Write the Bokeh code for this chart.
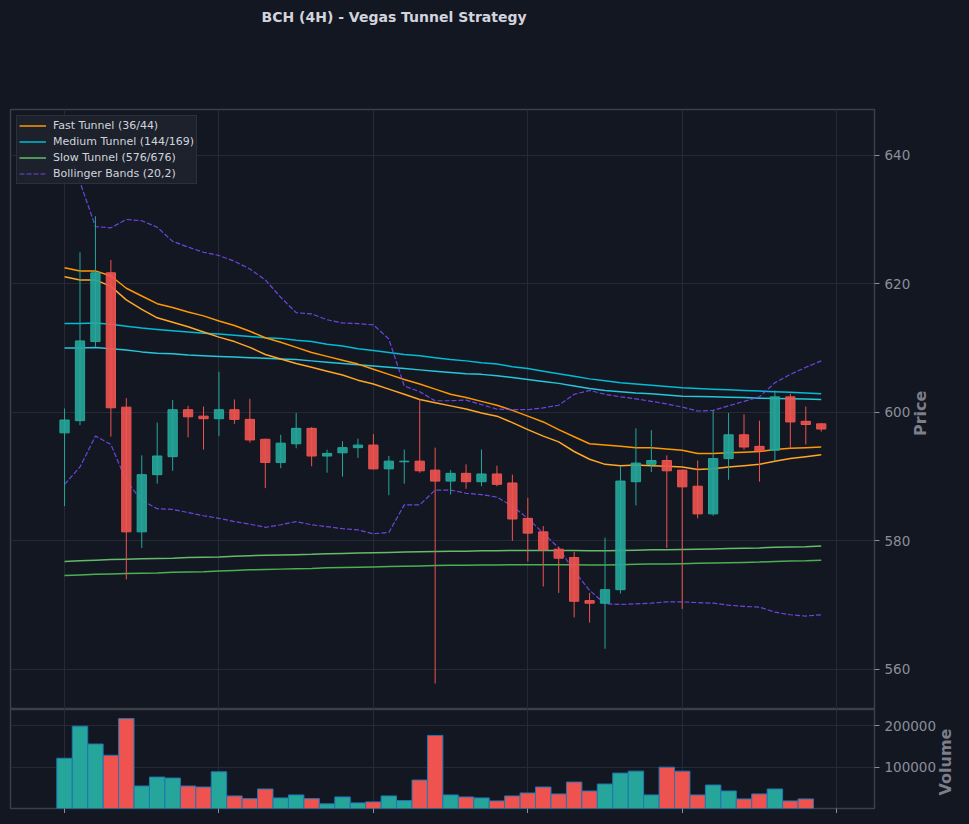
import math
from bokeh.plotting import figure
from bokeh.models import (ColumnDataSource, FixedTicker, Range1d, Legend, LegendItem,
                          Grid, NumeralTickFormatter, CustomJSTickFormatter, LinearAxis)
from bokeh.layouts import column
from bokeh.embed import file_html
from bokeh.resources import INLINE

# ---------------- data ----------------
idx = list(range(50))
opens = [596.8, 598.7, 611.0, 621.7, 600.8, 581.4, 590.3, 593.1, 600.4, 599.4,
         599.0, 600.4, 598.9, 595.8, 592.2, 595.1, 597.5, 593.2, 593.7, 594.5,
         594.9, 591.2, 592.3, 592.4, 591.0, 589.3, 590.5, 589.2, 590.4, 589.0,
         583.5, 581.4, 578.7, 577.4, 570.7, 570.3, 572.4, 589.2, 591.9, 592.5,
         591.0, 588.5, 584.2, 592.8, 596.5, 594.7, 594.1, 602.4, 598.6, 598.2]
highs = [600.6, 624.9, 630.5, 623.7, 602.2, 593.3, 598.4, 601.9, 601.0, 600.9,
         606.3, 602.0, 602.1, 595.9, 596.5, 599.9, 597.7, 594.2, 595.5, 595.9,
         596.6, 593.2, 594.2, 602.1, 594.5, 591.0, 591.9, 594.2, 591.7, 590.3,
         586.7, 582.3, 579.1, 578.3, 571.9, 580.5, 591.6, 597.5, 597.2, 593.3,
         591.1, 592.5, 600.3, 599.9, 599.7, 598.7, 603.4, 602.9, 600.9, 598.3]
lows = [585.4, 598.0, 610.2, 596.2, 574.0, 578.9, 588.9, 590.9, 596.1, 594.2,
        596.3, 598.2, 595.3, 588.2, 591.3, 594.4, 591.6, 590.6, 590.0, 592.9,
        591.1, 587.1, 588.9, 590.6, 557.8, 587.2, 588.1, 588.5, 588.5, 580.0,
        576.8, 572.9, 571.9, 568.1, 567.3, 563.2, 571.8, 585.5, 590.7, 578.9,
        569.4, 583.5, 583.9, 589.5, 594.2, 589.2, 592.4, 594.4, 595.0, 597.0]
closes = [598.8, 611.1, 621.7, 600.7, 581.4, 590.3, 593.2, 600.4, 599.3, 599.0,
          600.4, 598.9, 595.7, 592.2, 595.2, 597.5, 593.2, 593.6, 594.5, 594.9,
          591.2, 592.4, 592.4, 590.9, 589.3, 590.5, 589.2, 590.4, 588.8, 583.4,
          581.2, 578.6, 577.3, 570.6, 570.3, 572.4, 589.3, 592.1, 592.5, 590.9,
          588.4, 584.2, 592.8, 596.5, 594.6, 594.0, 602.4, 598.5, 598.1, 597.4]
volumes = [121600, 199200, 156000, 128800, 217600, 54400, 76000, 73600, 54400, 52000,
           88800, 30400, 24000, 47200, 25600, 32800, 24000, 11200, 28000, 13600,
           16000, 30400, 19200, 68800, 176800, 32800, 28000, 25600, 18400, 30400,
           37600, 52000, 35200, 64000, 42400, 59200, 85600, 90400, 32800, 100000,
           90400, 32800, 56800, 42400, 23200, 35200, 47200, 18400, 23200]

fast_a = [622.5, 622.0, 622.0, 621.2, 619.3, 618.1, 616.9, 616.3, 615.6, 615.0,
          614.2, 613.5, 612.6, 611.6, 610.9, 610.1, 609.3, 608.7, 608.1, 607.5,
          606.7, 605.9, 605.1, 604.4, 603.6, 602.8, 602.3, 601.7, 601.1, 600.3,
          599.4, 598.5, 597.3, 596.2, 595.1, 594.9, 594.7, 594.5, 594.5, 594.3,
          594.1, 593.6, 593.6, 593.7, 593.8, 593.9, 594.2, 594.4, 594.5, 594.6]
fast_b = [621.1, 620.6, 620.6, 619.6, 617.5, 616.0, 614.7, 614.0, 613.3, 612.5,
          611.7, 611.0, 610.1, 609.0, 608.3, 607.6, 607.0, 606.4, 605.8, 605.0,
          604.4, 603.6, 602.8, 602.0, 601.5, 601.0, 600.5, 599.9, 599.4, 598.4,
          597.3, 596.3, 595.4, 593.9, 592.7, 591.9, 591.7, 591.8, 591.7, 591.6,
          591.5, 591.1, 591.2, 591.5, 591.7, 591.9, 592.4, 592.8, 593.1, 593.4]
med_a = [613.8, 613.8, 613.9, 613.7, 613.4, 613.1, 612.9, 612.7, 612.5, 612.3,
         612.2, 612.0, 611.8, 611.6, 611.5, 611.2, 611.0, 610.6, 610.3, 609.9,
         609.6, 609.3, 609.0, 608.8, 608.5, 608.2, 608.0, 607.7, 607.5, 607.1,
         606.8, 606.4, 606.0, 605.6, 605.2, 604.9, 604.6, 604.4, 604.2, 604.0,
         603.8, 603.7, 603.6, 603.5, 603.4, 603.3, 603.2, 603.1, 603.0, 602.9]
med_b = [610.0, 610.0, 610.1, 609.9, 609.7, 609.4, 609.2, 609.1, 608.9, 608.8,
         608.7, 608.6, 608.5, 608.4, 608.3, 608.2, 608.0, 607.8, 607.6, 607.4,
         607.2, 607.0, 606.8, 606.6, 606.4, 606.2, 606.0, 605.9, 605.7, 605.4,
         605.1, 604.8, 604.5, 604.1, 603.7, 603.4, 603.2, 603.0, 602.9, 602.7,
         602.5, 602.45, 602.4, 602.35, 602.3, 602.2, 602.15, 602.1, 602.05, 602.0]
slow_a = [576.8, 576.9, 577.0, 577.1, 577.15, 577.2, 577.25, 577.3, 577.4, 577.45,
          577.5, 577.6, 577.7, 577.75, 577.8, 577.85, 577.9, 578.0, 578.05, 578.1,
          578.15, 578.2, 578.25, 578.3, 578.35, 578.4, 578.4, 578.45, 578.45, 578.5,
          578.5, 578.5, 578.5, 578.5, 578.45, 578.45, 578.5, 578.55, 578.6, 578.6,
          578.65, 578.7, 578.75, 578.8, 578.85, 578.9, 579.0, 579.05, 579.1, 579.2]
slow_b = [574.6, 574.7, 574.8, 574.85, 574.9, 574.95, 575.0, 575.1, 575.15, 575.2,
          575.3, 575.4, 575.5, 575.55, 575.6, 575.65, 575.7, 575.8, 575.85, 575.9,
          575.95, 576.0, 576.05, 576.1, 576.15, 576.2, 576.2, 576.25, 576.25, 576.3,
          576.3, 576.3, 576.3, 576.3, 576.25, 576.25, 576.3, 576.35, 576.4, 576.4,
          576.45, 576.5, 576.55, 576.6, 576.65, 576.7, 576.8, 576.85, 576.9, 577.0]
bb_upper = [642.5, 635.8, 628.9, 628.7, 630.0, 629.8, 628.8, 626.6, 625.7, 624.9,
            624.4, 623.5, 622.3, 620.6, 617.9, 615.5, 615.3, 614.4, 613.9, 613.8,
            613.6, 611.4, 604.1, 603.2, 601.8, 601.8, 601.9, 601.2, 600.5, 600.4,
            600.4, 600.7, 601.1, 602.8, 603.4, 602.8, 602.4, 602.1, 601.7, 601.3,
            600.8, 600.2, 600.3, 601.0, 601.7, 602.4, 604.6, 605.9, 607.0, 608.0]
bb_lower = [588.8, 591.5, 596.3, 595.0, 589.3, 586.3, 585.0, 584.9, 584.4, 583.9,
            583.5, 583.0, 582.6, 582.1, 582.5, 583.0, 582.5, 582.2, 581.9, 581.7,
            581.1, 581.3, 585.6, 585.6, 587.9, 587.9, 587.4, 587.2, 586.8, 585.4,
            583.5, 581.2, 578.9, 575.3, 572.3, 570.2, 570.1, 570.2, 570.3, 570.5,
            570.5, 570.4, 570.3, 570.0, 569.8, 569.7, 568.9, 568.5, 568.3, 568.5]

price_ticks = [560, 580, 600, 620, 640]
volume_ticks = [100000, 200000]
x_ticks = [0, 10, 20, 30, 40, 50]

TITLE = "BCH (4H) - Vegas Tunnel Strategy"

# ---------------- style ----------------
BG = "#131722"
GRID = "#262a36"
OUTLINE = "#3b3f4a"
TICK = "#8a8e99"
LABEL = "#7c7f8a"
UP = "#26a69a"
DOWN = "#ef5350"
FONT = "DejaVu Sans"

colors = [UP if c >= o else DOWN for o, c in zip(opens, closes)]
src = ColumnDataSource(dict(
    x=idx, high=highs, low=lows,
    top=[max(o, c) for o, c in zip(opens, closes)],
    bottom=[min(o, c) for o, c in zip(opens, closes)],
    color=colors))

x_range = Range1d(-3.5, 52.45)


def style_right_axis(ax):
    ax.axis_line_color = None
    ax.major_tick_line_color = TICK
    ax.major_tick_out = 5
    ax.major_tick_in = 0
    ax.minor_tick_line_color = None
    ax.major_label_text_color = TICK
    ax.major_label_text_font = FONT
    ax.major_label_text_font_size = "13.5px"
    ax.major_label_standoff = 5


def text_axis(pos, text, **kw):
    """An axis that carries one text (title / side label) at position `pos`."""
    ax = LinearAxis(ticker=FixedTicker(ticks=[pos]), major_label_overrides={pos: text},
                    axis_line_color=None, major_tick_line_color=None,
                    minor_tick_line_color=None, major_tick_out=0, major_tick_in=0,
                    major_label_text_font=FONT, **kw)
    return ax


p = figure(frame_width=864, frame_height=600, x_range=x_range,
           y_range=Range1d(553.76, 647.11), output_backend="svg",
           toolbar_location=None, x_axis_location=None, y_axis_location="right",
           background_fill_color=BG, border_fill_color=BG,
           min_border_left=10, min_border_right=90, min_border_bottom=0, min_border_top=109)
p.outline_line_color = OUTLINE
p.outline_line_width = 1.5

# title (centred over x = 21.34 in candle units)
p.add_layout(text_axis(21.34, TITLE, major_label_standoff=85,
                       major_label_text_font_size="14px",
                       major_label_text_font_style="bold",
                       major_label_text_color="#d1d4dc"), "above")

p.xgrid.visible = False
p.add_layout(Grid(dimension=0, ticker=FixedTicker(ticks=x_ticks),
                  grid_line_color=GRID, grid_line_width=1))
p.yaxis.ticker = FixedTicker(ticks=price_ticks)
p.ygrid.grid_line_color = GRID
p.ygrid.grid_line_width = 1
style_right_axis(p.yaxis[0])
p.add_layout(text_axis(596.3, "Price", major_label_standoff=7,
                       major_label_orientation=math.pi / 2,
                       major_label_text_font_size="16px",
                       major_label_text_font_style="bold",
                       major_label_text_color=LABEL), "right")

# lines
r_sa = p.line(idx, slow_a, line_color="#66bb6a", line_width=1.5)
p.line(idx, slow_b, line_color="#4caf50", line_width=1.5)
r_ma = p.line(idx, med_a, line_color="#00bcd4", line_width=1.5)
p.line(idx, med_b, line_color="#26c6da", line_width=1.5)
r_fa = p.line(idx, fast_a, line_color="#ff9800", line_width=1.5)
p.line(idx, fast_b, line_color="#ffa726", line_width=1.5)
r_bb = p.line(idx, bb_upper, line_color="#7c4dff", line_width=1.2, line_alpha=0.85,
              line_dash="5 2")
p.line(idx, bb_lower, line_color="#7c4dff", line_width=1.2, line_alpha=0.85,
       line_dash="5 2")

# candles
p.segment(x0="x", y0="low", x1="x", y1="high", line_color="color", line_width=1, source=src)
p.vbar(x="x", width=0.6, top="top", bottom="bottom", fill_color="color",
       fill_alpha=0.9, line_color="color", line_width=1, source=src)

legend = Legend(items=[
    LegendItem(label="Fast Tunnel (36/44)", renderers=[r_fa]),
    LegendItem(label="Medium Tunnel (144/169)", renderers=[r_ma]),
    LegendItem(label="Slow Tunnel (576/676)", renderers=[r_sa]),
    LegendItem(label="Bollinger Bands (20,2)", renderers=[r_bb]),
], location="top_left")
legend.margin = 6
legend.padding = 2
legend.spacing = 1
legend.label_height = 15
legend.glyph_height = 15
legend.glyph_width = 27
legend.label_standoff = 7
legend.label_text_font = FONT
legend.label_text_font_size = "11px"
legend.label_text_color = "#d1d4dc"
legend.background_fill_color = "#1e222d"
legend.background_fill_alpha = 0.9
legend.border_line_color = OUTLINE
legend.border_line_width = 1
p.add_layout(legend)

# ---------------- volume ----------------
v = figure(frame_width=864, frame_height=99, x_range=x_range,
           y_range=Range1d(0, 239500), output_backend="svg",
           toolbar_location=None, y_axis_location="right",
           background_fill_color=BG, border_fill_color=BG,
           min_border_left=10, min_border_right=90, min_border_top=0, min_border_bottom=4)
v.outline_line_color = OUTLINE
v.outline_line_width = 1.5
v.vbar(x=idx[:len(volumes)], top=volumes, width=1.0,
       fill_color=colors[:len(volumes)], line_color="#1f77b4", line_width=1)

v.xaxis.ticker = FixedTicker(ticks=x_ticks)
v.xaxis.formatter = CustomJSTickFormatter(code="return ''")
v.xaxis.major_label_standoff = 0
v.xaxis.axis_line_color = None
v.xaxis.major_tick_line_color = TICK
v.xaxis.major_tick_out = 5
v.xaxis.major_tick_in = 0
v.xaxis.minor_tick_line_color = None
v.xgrid.ticker = FixedTicker(ticks=x_ticks)
v.xgrid.grid_line_color = GRID
v.yaxis.ticker = FixedTicker(ticks=volume_ticks)
v.yaxis.formatter = NumeralTickFormatter(format="0")
v.ygrid.grid_line_color = GRID
style_right_axis(v.yaxis[0])
v.add_layout(text_axis(31450, "Volume", major_label_standoff=6,
                       major_label_orientation=math.pi / 2,
                       major_label_text_font_size="16px",
                       major_label_text_font_style="bold",
                       major_label_text_color=LABEL), "right")

layout = column(p, v, spacing=0)
html = file_html(layout, INLINE, title=TITLE)
html = html.replace("<html", '<html style="background-color:#131722;"', 1)
html = html.replace("<body", '<body style="background-color:#131722;"', 1)
open("out.html", "w").write(html)
